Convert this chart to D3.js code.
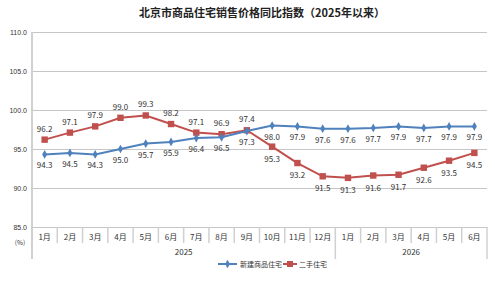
<html>
<head>
<meta charset="utf-8">
<script src="https://d3js.org/d3.v7.min.js"></script>
<style>
  body { margin: 0; background: #fff; }
  text { font-family: "Noto Sans CJK SC", "Noto Sans", sans-serif; }
</style>
</head>
<body>
<svg id="chart" width="495" height="281"></svg>
<script>
// data
var months = ['1月','2月','3月','4月','5月','6月','7月','8月','9月','10月','11月','12月','1月','2月','3月','4月','5月','6月'];
var years = ['2025', '2026'];
var yearCounts = [12, 6];
var newHomes = [94.3, 94.5, 94.3, 95.0, 95.7, 95.9, 96.4, 96.5, 97.3, 98.0, 97.9, 97.6, 97.6, 97.7, 97.9, 97.7, 97.9, 97.9];
var usedHomes = [96.2, 97.1, 97.9, 99.0, 99.3, 98.2, 97.1, 96.9, 97.4, 95.3, 93.2, 91.5, 91.3, 91.6, 91.7, 92.6, 93.5, 94.5];
var yTicks = [85, 90, 95, 100, 105, 110];
var seriesNames = ['新建商品住宅', '二手住宅'];

var svg = d3.select('#chart');
var pl = 32, pr = 487, pt = 32, pb = 227;

var x = d3.scaleBand().domain(d3.range(months.length)).range([pl, pr]);
var y = d3.scaleLinear().domain([85, 110]).range([pb, pt]);

// title
svg.append('text')
    .attr('x', 262).attr('y', 17)
    .attr('text-anchor', 'middle')
    .attr('font-size', 11).attr('font-weight', 'bold')
    .attr('fill', '#222')
    .text('北京市商品住宅销售价格同比指数（2025年以来）');

// gridlines + y axis
var yAxis = svg.append('g')
    .attr('transform', 'translate(' + pl + ',0)')
    .call(d3.axisLeft(y).tickValues(yTicks).tickSize(-(pr - pl)).tickPadding(5)
        .tickFormat(d3.format('.1f')));
yAxis.select('.domain').remove();
yAxis.selectAll('line').attr('stroke', '#c6c6c6').attr('stroke-width', 1.2);
yAxis.selectAll('text').attr('font-size', 7).attr('fill', '#333')
    .style('font-family', 'Liberation Sans, Arial, sans-serif');

// left axis line
svg.append('line')
    .attr('x1', pl).attr('x2', pl).attr('y1', pt).attr('y2', 259)
    .attr('stroke', '#d0d0d0').attr('stroke-width', 2);

// month axis
var xAxis = svg.append('g')
    .attr('transform', 'translate(0,' + pb + ')')
    .call(d3.axisBottom(x).tickSize(0).tickPadding(7).tickFormat(function(i) { return months[i]; }));
xAxis.select('.domain').attr('stroke', '#c6c6c6').attr('stroke-width', 1.2);
xAxis.selectAll('text').attr('font-size', 8).attr('fill', '#333');

// month separators
svg.selectAll('.sep')
    .data(d3.range(1, months.length))
    .enter().append('line')
    .attr('x1', function(i) { return x(i); })
    .attr('x2', function(i) { return x(i); })
    .attr('y1', pb)
    .attr('y2', function(i) { return i === yearCounts[0] ? 259 : 243; })
    .attr('stroke', '#d0d0d0').attr('stroke-width', 1.5);
svg.append('line')
    .attr('x1', pr).attr('x2', pr).attr('y1', pb).attr('y2', 259)
    .attr('stroke', '#d0d0d0').attr('stroke-width', 1.5);

// year labels
var start = 0;
years.forEach(function(yr, k) {
    var x0 = x(start), x1 = x(start + yearCounts[k] - 1) + x.bandwidth();
    svg.append('text')
        .attr('x', (x0 + x1) / 2).attr('y', 255)
        .attr('text-anchor', 'middle')
        .attr('font-size', 8).attr('fill', '#333')
        .text(yr);
    start += yearCounts[k];
});

svg.append('text')
    .attr('x', 20).attr('y', 245)
    .attr('text-anchor', 'middle')
    .attr('font-size', 6.5).attr('fill', '#333')
    .text('(%)');

var cx = function(d, i) { return x(i) + x.bandwidth() / 2; };
var line = d3.line().x(cx).y(function(d) { return y(d); });

var blue = '#4f81bd', red = '#c0504d';

// second-hand series
svg.append('path').datum(usedHomes)
    .attr('d', line).attr('fill', 'none')
    .attr('stroke', red).attr('stroke-width', 2);
svg.selectAll('.usq').data(usedHomes).enter().append('rect')
    .attr('x', function(d, i) { return cx(d, i) - 3.2; })
    .attr('y', function(d) { return y(d) - 3.2; })
    .attr('width', 6.4).attr('height', 6.4)
    .attr('fill', red);

// new series
svg.append('path').datum(newHomes)
    .attr('d', line).attr('fill', 'none')
    .attr('stroke', blue).attr('stroke-width', 2);
svg.selectAll('.ndm').data(newHomes).enter().append('path')
    .attr('d', d3.symbol().type(d3.symbolDiamond).size(22))
    .attr('transform', function(d, i) { return 'translate(' + cx(d, i) + ',' + y(d) + ')'; })
    .attr('fill', blue);

// labels
svg.selectAll('.nl').data(newHomes).enter().append('text')
    .attr('x', cx)
    .attr('y', function(d) { return y(d) + 14; })
    .attr('text-anchor', 'middle')
    .attr('font-size', 8).attr('fill', '#333')
    .text(function(d) { return d.toFixed(1); });

svg.selectAll('.ul').data(usedHomes).enter().append('text')
    .attr('x', cx)
    .attr('y', function(d, i) { return i < 9 ? y(d) - 8 : y(d) + 15; })
    .attr('text-anchor', 'middle')
    .attr('font-size', 8).attr('fill', '#333')
    .text(function(d) { return d.toFixed(1); });

// legend
var lg = svg.append('g').attr('transform', 'translate(218,264)');
lg.append('line').attr('x1', 0).attr('x2', 19).attr('stroke', blue).attr('stroke-width', 2);
lg.append('path').attr('d', d3.symbol().type(d3.symbolDiamond).size(22)).attr('transform', 'translate(9.5,0)').attr('fill', blue);
lg.append('text').attr('x', 22).attr('y', 2.5).attr('font-size', 7).attr('fill', '#333').text(seriesNames[0]);
lg.append('line').attr('x1', 65).attr('x2', 79).attr('stroke', red).attr('stroke-width', 2);
lg.append('rect').attr('x', 69).attr('y', -3).attr('width', 6).attr('height', 6).attr('fill', red);
lg.append('text').attr('x', 81).attr('y', 2.5).attr('font-size', 7).attr('fill', '#333').text(seriesNames[1]);
</script>
</body>
</html>
